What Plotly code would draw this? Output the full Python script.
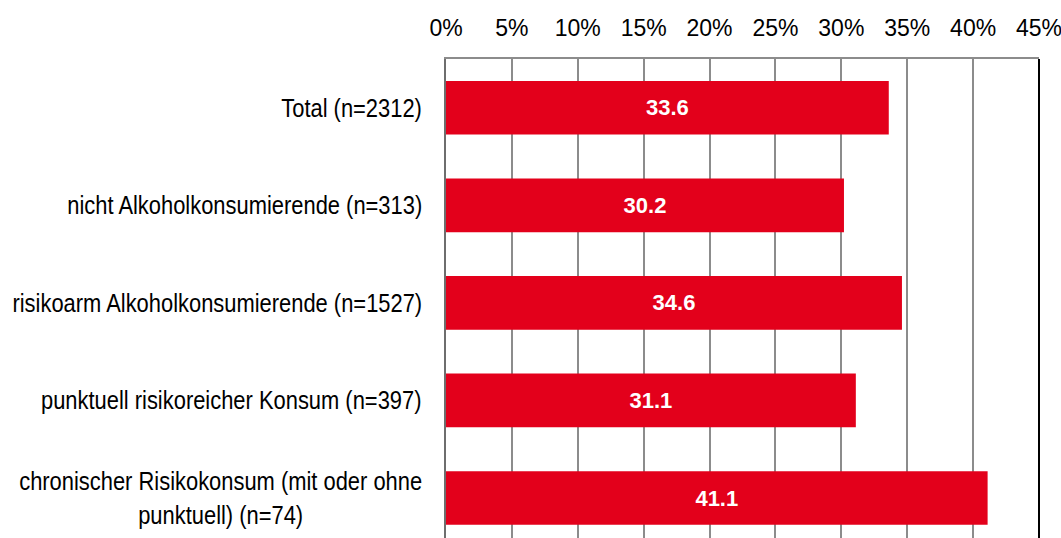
import plotly.graph_objects as go

categories = [
    "Total (n=2312)",
    "nicht Alkoholkonsumierende (n=313)",
    "risikoarm Alkoholkonsumierende (n=1527)",
    "punktuell risikoreicher Konsum (n=397)",
    "chronischer Risikokonsum (mit oder ohne<br>punktuell) (n=74)",
]
values = [33.6, 30.2, 34.6, 31.1, 41.1]
tick_values = [0, 5, 10, 15, 20, 25, 30, 35, 40, 45]
tick_labels = [f"{v}%" for v in tick_values]

FONT = "Liberation Sans, Arial, sans-serif"
RED = "#E3001B"

ypos = list(range(len(categories)))

fig = go.Figure()
fig.add_trace(go.Bar(
    x=values,
    y=ypos,
    orientation="h",
    marker=dict(color=RED, line=dict(width=0)),
    text=[f"{v:.1f}" for v in values],
    textposition="inside",
    insidetextanchor="middle",
    textangle=0,
    constraintext="none",
    textfont=dict(family=FONT, size=22, color="white", weight="bold"),
    width=0.55,
    hoverinfo="skip",
))

annotations = []
for i, c in enumerate(categories):
    annotations.append(dict(
        x=0, xref="paper", y=i, yref="y",
        text=c, showarrow=False, xanchor="right", yanchor="middle",
        align="center", xshift=-22,
        font=dict(family=FONT, size=26, color="#000000"),
    ))

fig.update_layout(
    width=1061, height=538,
    margin=dict(l=446, r=22, t=59, b=0),
    paper_bgcolor="white", plot_bgcolor="white",
    showlegend=False,
    annotations=annotations,
    shapes=[dict(type="line", xref="paper", yref="paper", x0=1, x1=1, y0=0, y1=1,
                 line=dict(color="#000000", width=2))],
    xaxis=dict(
        side="top", range=[0, 45.0001], tickvals=tick_values, ticktext=tick_labels,
        showgrid=True, gridcolor="#8c8c8c", gridwidth=2,
        showline=True, linecolor="#8c8c8c", linewidth=2,
        ticks="", ticklabelstandoff=12, zeroline=False, ticklabeloverflow="allow",
        tickfont=dict(family=FONT, size=23, color="#000000"),
    ),
    yaxis=dict(
        range=[4.41, -0.5], showticklabels=False, showgrid=False, zeroline=False,
        showline=True, linecolor="#6e6e6e", linewidth=2, ticks="",
    ),
)

post = """
document.body.style.margin = '0px';
var st = document.createElement('style');
st.textContent = '.annotation-text{transform-box:fill-box;transform-origin:100% 50%;transform:scaleX(0.843);}';
document.head.appendChild(st);
"""

fig.write_html("out.html", post_script=post, config={"displayModeBar": False, "staticPlot": True})
